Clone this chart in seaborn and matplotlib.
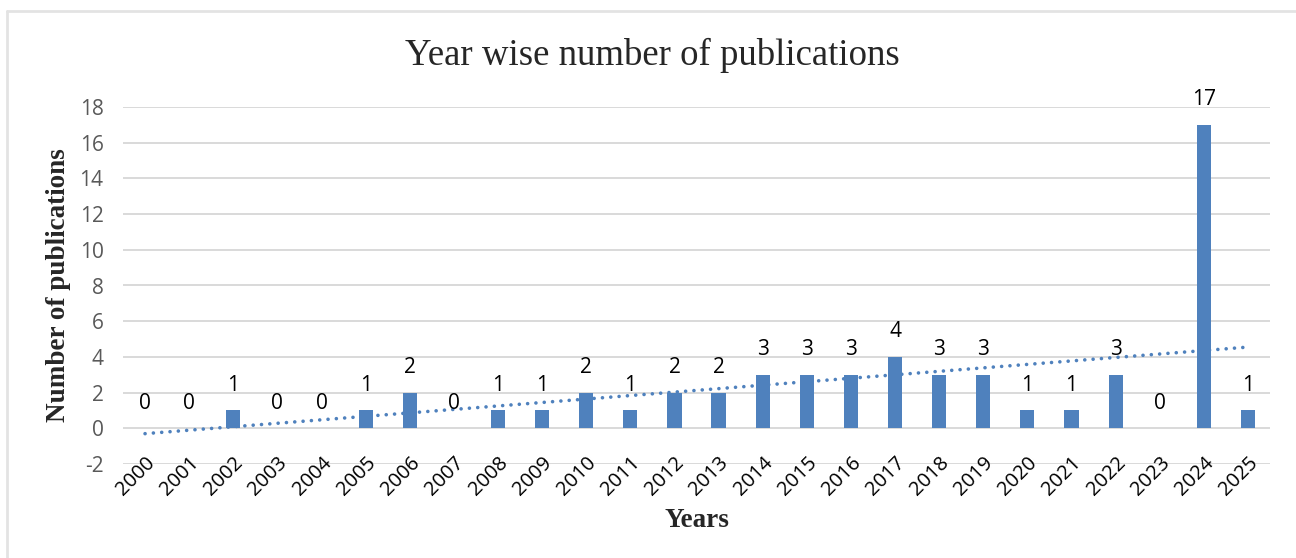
import numpy as np
import pandas as pd
import matplotlib
matplotlib.use('Agg')
import matplotlib.pyplot as plt
import seaborn as sns

# data
years = [str(y) for y in range(2000, 2026)]
counts = [0, 0, 1, 0, 0, 1, 2, 0, 1, 1, 2, 1, 2, 2, 3, 3, 3, 4, 3, 3, 1, 1, 3, 0, 17, 1]
# linear trendline end values as drawn in the reference
trend_first = -0.3
trend_last = 4.55
y_ticks = list(range(-2, 19, 2))

BAR = '#4f81bd'
GRID = '#d9d9d9'

sns.set_theme(style='white')
plt.rcParams['font.family'] = ['Open Sans', 'DejaVu Sans']
plt.rcParams['axes.unicode_minus'] = False

df = pd.DataFrame({'year': years, 'count': counts})

fig = plt.figure(figsize=(12.96, 5.58), dpi=100)
ax = fig.add_axes([123 / 1296, 1 - 464 / 558, (1270 - 123) / 1296, (464 - 107) / 558])

sns.barplot(data=df, x='year', y='count', color=BAR, width=0.32, saturation=1,
            linewidth=0, ax=ax, zorder=3)

# dotted linear trend
xs = np.arange(len(years))
trend = np.linspace(trend_first, trend_last, len(years))
ax.plot(xs, trend, linestyle=(0, (0.01, 2.3)), color=BAR, lw=2.6, zorder=4,
        dash_capstyle='round')

for i, v in enumerate(counts):
    ax.annotate(str(v), (i, v), xytext=(0, 18), textcoords='offset points',
                ha='center', va='center', fontsize=15, color='black', zorder=5)

ax.set_ylim(-2, 18)
ax.set_xlim(-0.5, len(years) - 0.5)
ax.set_yticks(y_ticks)
for y in y_ticks:
    ax.axhline(y, color=GRID, lw=1.4, zorder=0)
for s in ax.spines.values():
    s.set_visible(False)
ax.tick_params(axis='y', labelsize=15, labelcolor='#595959', length=0, pad=14)
ax.tick_params(axis='x', labelsize=14.5, labelcolor='black', length=0, pad=-8)
plt.setp(ax.get_xticklabels(), rotation=45, ha='right', rotation_mode='anchor')

ax.set_xlabel('Years', family='Liberation Serif', fontsize=19.5, fontweight='bold', labelpad=6)
ax.set_ylabel('Number of publications', family='Liberation Serif', fontsize=19.5,
              fontweight='bold', labelpad=6)
fig.text(652 / 1296, 1 - 55 / 558, 'Year wise number of publications',
         family='Liberation Serif', fontsize=26.5, ha='center', va='center')

# light outer border of the chart area
fig.add_artist(plt.Line2D([7 / 1296, 1], [1 - 11 / 558] * 2, color='#e3e3e3', lw=2,
                          transform=fig.transFigure))
fig.add_artist(plt.Line2D([7 / 1296] * 2, [0, 1 - 11 / 558], color='#e3e3e3', lw=2,
                          transform=fig.transFigure))

fig.savefig('out.png', dpi=100)
